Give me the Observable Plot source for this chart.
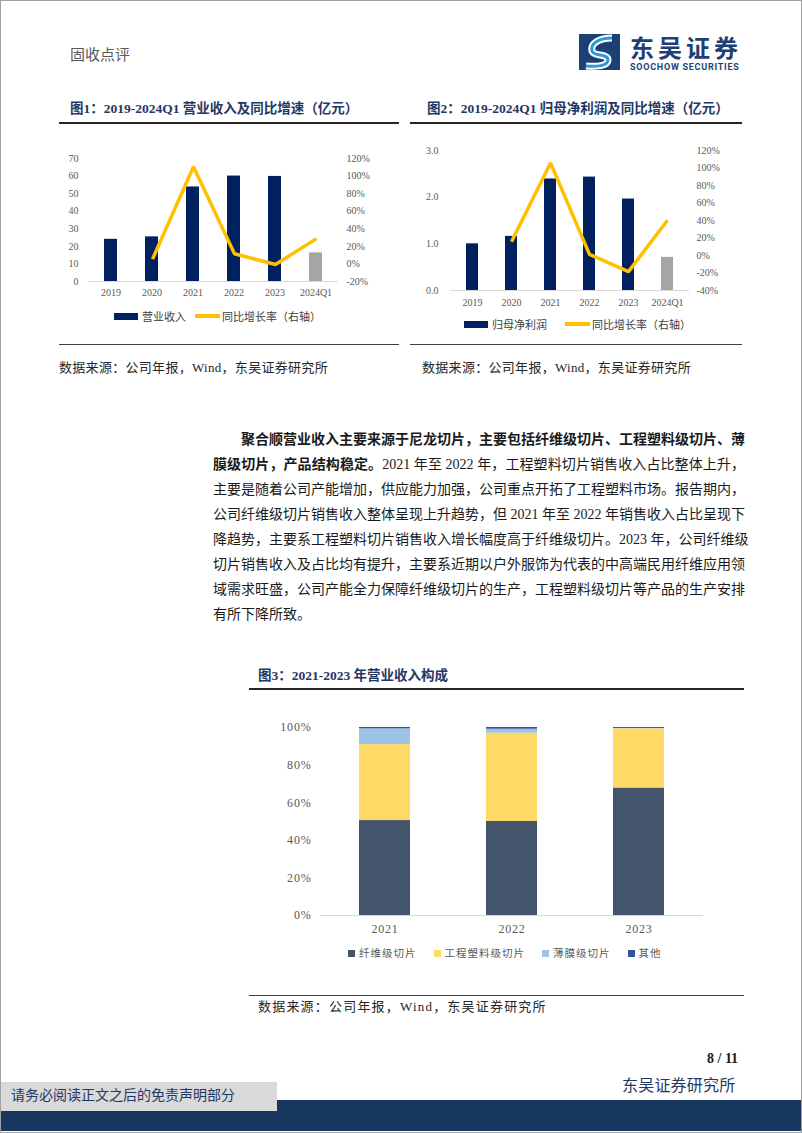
<!DOCTYPE html>
<html><head><meta charset="utf-8">
<script src="https://cdn.jsdelivr.net/npm/d3@7"></script>
<script src="https://cdn.jsdelivr.net/npm/@observablehq/plot@0.6"></script>
<style>
html,body{margin:0;padding:0;background:#fff;}
#page{position:relative;width:802px;height:1133px;overflow:hidden;box-sizing:border-box;border:1px solid #a0a0a0;font-family:"Liberation Serif","Noto Sans CJK SC",serif;color:#1a1a1a;}
.abs{position:absolute;white-space:nowrap;}
.figtitle{font-weight:bold;font-size:13.5px;line-height:18px;color:#1F3864;}
.rule{position:absolute;height:2px;background:#262626;}
.thin{position:absolute;height:1px;background:#404040;}
.src{font-size:13px;line-height:18px;color:#262626;letter-spacing:0.3px;}
.pl{position:absolute;left:212px;width:532px;font-size:14px;line-height:20px;text-align:justify;text-align-last:justify;white-space:nowrap;color:#1a1a1a;}
.leg{position:absolute;display:flex;align-items:center;font-family:"Noto Sans CJK SC",sans-serif;font-size:11px;color:#404040;line-height:14px;}
.leg3{position:absolute;display:flex;align-items:center;font-family:"Noto Sans CJK SC",sans-serif;font-size:10.5px;letter-spacing:1px;color:#595959;line-height:14px;}
.sq{display:inline-block;width:7px;height:7px;margin-right:4px;}
.chart{position:absolute;}
.chart svg{position:absolute;left:0;top:0;}
</style></head>
<body>
<div id="page">
  <div class="abs" style="left:69px;top:43px;font-family:'Noto Sans CJK SC',sans-serif;font-size:15px;line-height:20px;color:#595959;">固收点评</div>
  <svg class="abs" style="left:577px;top:31px;" width="44" height="40" viewBox="0 0 44 40">
    <rect x="1" y="2" width="41" height="36" fill="#1C3F74"/>
    <path d="M34 6 C 22 6, 12 11, 14 19 C 16 25, 30 21, 30 28 C 30 34, 18 35, 8 34" fill="none" stroke="#ffffff" stroke-width="7"/>
    <path d="M34 6 C 22 6, 12 11, 14 19 C 16 25, 30 21, 30 28 C 30 34, 18 35, 8 34" fill="none" stroke="#2A9AD8" stroke-width="3"/>
  </svg>
  <div class="abs" style="left:629px;top:32px;font-family:'Noto Sans CJK SC',sans-serif;font-weight:bold;font-size:24px;line-height:28px;letter-spacing:4px;color:#1C3F74;">东吴证券</div>
  <div class="abs" style="left:629px;top:61px;font-family:Roboto,sans-serif;font-weight:bold;font-size:9px;line-height:10px;letter-spacing:0.75px;color:#1C3F74;">SOOCHOW SECURITIES</div>

  <div class="abs figtitle" style="left:69px;top:99px;">图1：2019-2024Q1 营业收入及同比增速（亿元）</div>
  <div class="rule" style="left:58px;width:340px;top:121px;"></div>
  <div class="abs figtitle" style="left:426px;top:99px;">图2：2019-2024Q1 归母净利润及同比增速（亿元）</div>
  <div class="rule" style="left:409px;width:332px;top:121px;"></div>

  <div id="chart1" class="chart" style="left:58px;top:145px;width:340px;height:155px;"></div>
  <div id="chart2" class="chart" style="left:409px;top:140px;width:332px;height:170px;"></div>

  <div class="leg" style="left:113px;top:308px;">
    <span style="display:inline-block;width:24px;height:7px;background:#002060;margin-right:4px;"></span><span>营业收入</span>
    <span style="display:inline-block;width:25px;height:3.5px;background:#FFC000;margin:0 2px 0 9px;"></span><span>同比增长率（右轴）</span>
  </div>
  <div class="leg" style="left:463px;top:316px;">
    <span style="display:inline-block;width:24px;height:7px;background:#002060;margin-right:4px;"></span><span>归母净利润</span>
    <span style="display:inline-block;width:25px;height:3.5px;background:#FFC000;margin:0 2px 0 18px;"></span><span>同比增长率（右轴）</span>
  </div>

  <div class="thin" style="left:58px;width:340px;top:343px;"></div>
  <div class="thin" style="left:409px;width:332px;top:343px;"></div>
  <div class="abs src" style="left:58px;top:358px;">数据来源：公司年报，Wind，东吴证券研究所</div>
  <div class="abs src" style="left:421px;top:358px;">数据来源：公司年报，Wind，东吴证券研究所</div>

  <div class="pl" style="top:429px;left:240px;width:504px;"><b>聚合顺营业收入主要来源于尼龙切片，主要包括纤维级切片、工程塑料级切片、薄</b></div>
  <div class="pl" style="top:454px;"><b>膜级切片，产品结构稳定。</b>2021 年至 2022 年，工程塑料切片销售收入占比整体上升，</div>
  <div class="pl" style="top:479px;">主要是随着公司产能增加，供应能力加强，公司重点开拓了工程塑料市场。报告期内，</div>
  <div class="pl" style="top:504px;">公司纤维级切片销售收入整体呈现上升趋势，但 2021 年至 2022 年销售收入占比呈现下</div>
  <div class="pl" style="top:529px;">降趋势，主要系工程塑料切片销售收入增长幅度高于纤维级切片。2023 年，公司纤维级</div>
  <div class="pl" style="top:554px;">切片销售收入及占比均有提升，主要系近期以户外服饰为代表的中高端民用纤维应用领</div>
  <div class="pl" style="top:579px;">域需求旺盛，公司产能全力保障纤维级切片的生产，工程塑料级切片等产品的生产安排</div>
  <div class="pl" style="top:604px;text-align-last:left;">有所下降所致。</div>

  <div class="abs figtitle" style="left:257px;top:666px;">图3：2021-2023 年营业收入构成</div>
  <div class="rule" style="left:248px;width:495px;top:687px;"></div>
  <div id="chart3" class="chart" style="left:248px;top:710px;width:495px;height:230px;"></div>
  <div id="legend3" class="leg3" style="left:347px;top:945px;"></div>
  <div class="thin" style="left:248px;width:495px;top:994px;"></div>
  <div class="abs src" style="left:257px;top:997px;letter-spacing:1.2px;">数据来源：公司年报，Wind，东吴证券研究所</div>

  <div class="abs" style="left:706px;top:1049px;font-family:'Liberation Serif',serif;font-weight:bold;font-size:14px;line-height:18px;color:#1a1a1a;">8 / 11</div>
  <div class="abs" style="left:621px;top:1075px;font-size:16px;line-height:20px;color:#1F3864;letter-spacing:0.2px;">东吴证券研究所</div>
  <div class="abs" style="left:0;top:1099px;width:802px;height:31px;background:#17375E;"></div>
  <div class="abs" style="left:0;top:1081px;width:276px;height:29px;background:#D9D9D9;"></div>
  <div class="abs" style="left:10px;top:1086px;font-size:14px;line-height:18px;color:#1F3864;">请务必阅读正文之后的免责声明部分</div>
</div>

<script>
// ---- data ----
const years = ["2019", "2020", "2021", "2022", "2023", "2024Q1"];
const revenue = [24.0, 25.4, 53.8, 60.0, 59.8, 16.3];          // 亿元
const revenueGrowth = [null, 5.5, 110.6, 11.6, -0.6, 28.8];     // %
const netProfit = [1.00, 1.16, 2.39, 2.43, 1.96, 0.71];         // 亿元
const netProfitGrowth = [null, 15.7, 105.8, 1.3, -18.4, 40.3];  // %

const revenueTicks = [0, 10, 20, 30, 40, 50, 60, 70];
const revenueGrowthTicks = [-20, 0, 20, 40, 60, 80, 100, 120];
const profitTicks = [0, 1, 2, 3];
const profitGrowthTicks = [-40, -20, 0, 20, 40, 60, 80, 100, 120];

const mixYears = ["2021", "2022", "2023"];
const mixCategories = ["纤维级切片", "工程塑料级切片", "薄膜级切片", "其他"];
const fiberShare = [50.5, 50.0, 67.8];
const engPlasticShare = [40.4, 47.0, 31.5];
const filmShare = [8.4, 2.1, 0.2];
const otherShare = [0.7, 0.9, 0.5];
const shareTicks = [0, 20, 40, 60, 80, 100];

// ---- dual-axis chart (two overlaid Plot SVGs sharing the x band scale) ----
function dualChart(el, o) {
  const data = years.map((year, i) => ({year, value: o.bars[i], growth: o.growth[i], quarter: year.includes("Q")}));
  const common = {
    width: o.width, height: o.height,
    marginTop: o.mt, marginBottom: o.mb, marginLeft: o.ml, marginRight: o.mr,
    style: {fontFamily: "Liberation Serif, serif", fontSize: "10px", color: "#595959", background: "transparent", overflow: "visible"}
  };
  const xs = {domain: years, paddingInner: 0.69, paddingOuter: 0.345};
  const bars = Plot.plot({
    ...common,
    x: {...xs, label: null, tickSize: 0, tickPadding: o.xPad},
    y: {domain: o.yDomain, ticks: o.yTicks, tickFormat: o.yFmt, label: null, tickSize: 0, tickPadding: o.lPad},
    color: {type: "identity"},
    marks: [
      Plot.barY(data, {x: "year", y: "value", fill: d => d.quarter ? "#A5A5A5" : "#002060"}),
      Plot.ruleY([o.yDomain[0]], {stroke: "#D9D9D9", strokeWidth: 1})
    ]
  });
  const line = Plot.plot({
    ...common,
    x: {...xs, axis: null},
    y: {domain: o.rDomain, ticks: o.rTicks, tickFormat: d => d + "%", axis: "right", label: null, tickSize: 0, tickPadding: o.rPad},
    marks: [
      Plot.line(data.filter(d => d.growth != null), {x: "year", y: "growth", stroke: "#FFC000", strokeWidth: 3.5, strokeLinejoin: "miter", strokeLinecap: "butt"})
    ]
  });
  el.appendChild(bars);
  el.appendChild(line);
}

dualChart(document.getElementById("chart1"), {
  width: 340, height: 155, mt: 12, mb: 20, ml: 29, mr: 61,
  bars: revenue, growth: revenueGrowth,
  yDomain: [0, 70], yTicks: revenueTicks, yFmt: d => String(d),
  rDomain: [-20, 120], rTicks: revenueGrowthTicks,
  xPad: 7, lPad: 10, rPad: 8
});

dualChart(document.getElementById("chart2"), {
  width: 332, height: 170, mt: 9, mb: 21, ml: 40, mr: 53,
  bars: netProfit, growth: netProfitGrowth,
  yDomain: [0, 3], yTicks: profitTicks, yFmt: d => d.toFixed(1),
  rDomain: [-40, 120], rTicks: profitGrowthTicks,
  xPad: 8, lPad: 12, rPad: 7
});

// ---- stacked composition chart ----
const mixColors = ["#44546A", "#FFD966", "#9DC3E6", "#2F5597"];
const shareSeries = [fiberShare, engPlasticShare, filmShare, otherShare];
const mixData = mixYears.flatMap((year, i) => mixCategories.map((category, j) => ({year, category, value: shareSeries[j][i]})));
const chart3 = Plot.plot({
  width: 495, height: 230, marginTop: 16, marginBottom: 26, marginLeft: 71, marginRight: 41,
  style: {fontFamily: "Liberation Serif, serif", fontSize: "12px", letterSpacing: "0.8px", color: "#595959", background: "transparent", overflow: "visible"},
  x: {domain: mixYears, paddingInner: 0.6, paddingOuter: 0.3, label: null, tickSize: 0, tickPadding: 9},
  y: {domain: [0, 100], ticks: shareTicks, tickFormat: d => d + "%", label: null, tickSize: 0, tickPadding: 9},
  color: {domain: mixCategories, range: mixColors},
  marks: [
    Plot.barY(mixData, {x: "year", y: "value", fill: "category"}),
    Plot.ruleY([0], {stroke: "#D9D9D9", strokeWidth: 1})
  ]
});
document.getElementById("chart3").appendChild(chart3);

const leg3 = document.getElementById("legend3");
mixCategories.forEach((c, i) => {
  const item = document.createElement("span");
  item.style.display = "inline-flex";
  item.style.alignItems = "center";
  item.style.marginRight = i < mixCategories.length - 1 ? "17px" : "0";
  item.innerHTML = `<span class="sq" style="background:${mixColors[i]}"></span><span>${c}</span>`;
  leg3.appendChild(item);
});
</script>
</body></html>
